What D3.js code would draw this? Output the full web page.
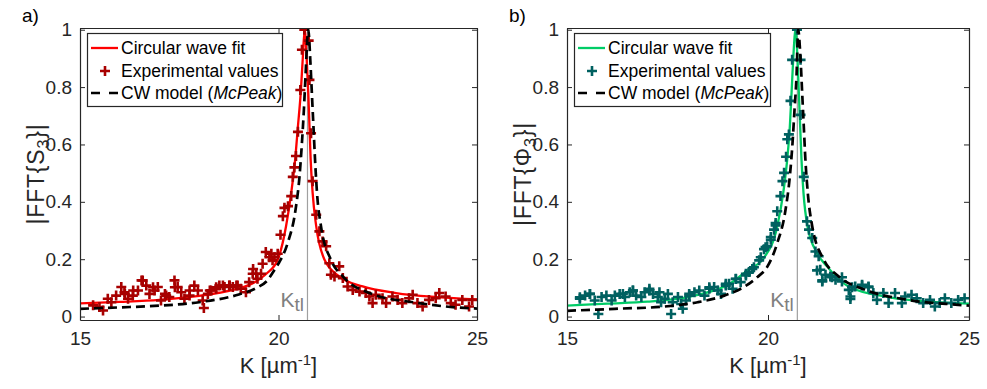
<!DOCTYPE html>
<html>
<head>
<meta charset="utf-8">
<script src="https://cdn.jsdelivr.net/npm/d3@7"></script>
<style>
  body { margin: 0; background: #fff; }
  svg text { font-family: "Liberation Sans", Arial, Helvetica, sans-serif; }
</style>
</head>
<body>
<svg id="fig" width="987" height="389"></svg>
<script>
// ---- data ----
const kTicks = [15, 20, 25];
const yTicks = [0, 0.2, 0.4, 0.6, 0.8, 1];
const kTl = 20.73;

// panel a: |FFT{S3}|
const kExpA = [15.33, 15.49, 15.58, 15.70, 15.79, 15.91, 16.04, 16.12, 16.13, 16.21, 16.33, 16.34, 16.46, 16.55, 16.58, 16.67,
  16.75, 16.84, 16.88, 16.96, 17.04, 17.14, 17.17, 17.25, 17.38, 17.39, 17.46, 17.55, 17.63, 17.76, 17.76, 17.88, 17.97,
  18.09, 18.12, 18.22, 18.27, 18.30, 18.43, 18.43, 18.51, 18.60, 18.64, 18.76, 18.77, 18.85, 18.94, 18.97, 19.05, 19.18,
  19.26, 19.35, 19.36, 19.44, 19.47, 19.56, 19.60, 19.68, 19.77, 19.82, 19.85, 19.90, 19.98, 20.05, 20.11, 20.15, 20.24,
  20.32, 20.36, 20.40, 20.44, 20.49, 20.55, 20.59, 20.65, 20.76, 20.78, 20.82, 20.86, 20.95, 21.03, 21.11, 21.20, 21.28,
  21.32, 21.41, 21.53, 21.62, 21.74, 21.87, 22.04, 22.20, 22.29, 22.37, 22.45, 22.62, 22.71, 22.87, 23.00, 23.12, 23.29,
  23.38, 23.50, 23.63, 23.79, 23.96, 24.05, 24.21, 24.34, 24.46, 24.63, 24.80, 24.88];
const sExpA = [0.039, 0.033, 0.021, 0.062, 0.050, 0.073, 0.103, 0.085, 0.079, 0.062, 0.073, 0.091, 0.091, 0.126, 0.126, 0.108,
  0.079, 0.102, 0.091, 0.103, 0.056, 0.079, 0.073, 0.068, 0.126, 0.102, 0.103, 0.085, 0.062, 0.073, 0.091, 0.108, 0.091,
  0.056, 0.030, 0.079, 0.091, 0.091, 0.097, 0.102, 0.108, 0.108, 0.103, 0.108, 0.108, 0.103, 0.108, 0.108, 0.097, 0.085,
  0.120, 0.149, 0.166, 0.149, 0.132, 0.149, 0.184, 0.225, 0.207, 0.219, 0.196, 0.207, 0.219, 0.285, 0.350, 0.379, 0.385,
  0.420, 0.487, 0.520, 0.560, 0.644, 0.790, 0.930, 1.000, 0.962, 0.825, 0.639, 0.472, 0.355, 0.297, 0.262, 0.245, 0.186,
  0.146, 0.140, 0.175, 0.134, 0.105, 0.093, 0.087, 0.082, 0.070, 0.047, 0.076, 0.064, 0.047, 0.070, 0.058, 0.047, 0.064,
  0.076, 0.047, 0.035, 0.058, 0.064, 0.082, 0.070, 0.047, 0.041, 0.058, 0.035, 0.058];
const kFitA = [15, 16, 17, 18, 18.5, 19, 19.4, 19.7, 19.98, 20.19, 20.32, 20.42, 20.49, 20.56, 20.61, 20.66, 20.71, 20.75,
  20.78, 20.81, 20.86, 20.95, 21.16, 21.53, 22.12, 22.96, 24, 25];
const sFitA = [0.046, 0.051, 0.058, 0.072, 0.083, 0.098, 0.12, 0.15, 0.198, 0.315, 0.431, 0.548, 0.664, 0.78, 0.897, 1.0,
  0.897, 0.78, 0.664, 0.548, 0.431, 0.315, 0.198, 0.14, 0.105, 0.082, 0.068, 0.06];
const kCwA = [15, 16, 17, 18, 19, 19.45, 19.72, 19.9, 20.0, 20.23, 20.43, 20.53, 20.59, 20.64, 20.68, 20.75, 20.80, 20.84,
  20.88, 20.92, 20.97, 21.07, 21.32, 21.62, 22.29, 23.54, 24.8, 25];
const sCwA = [0.027, 0.032, 0.038, 0.05, 0.077, 0.1, 0.126, 0.163, 0.185, 0.256, 0.373, 0.49, 0.605, 0.722, 0.838, 1.0,
  0.897, 0.78, 0.664, 0.548, 0.431, 0.315, 0.198, 0.14, 0.082, 0.047, 0.029, 0.028];

// panel b: |FFT{Phi3}|
const kExpB = [15.32, 15.32, 15.45, 15.57, 15.57, 15.69, 15.78, 15.86, 15.98, 16.11, 16.19, 16.31, 16.39, 16.44, 16.56, 16.64,
  16.64, 16.72, 16.85, 16.93, 17.05, 17.05, 17.14, 17.26, 17.30, 17.34, 17.43, 17.51, 17.59, 17.63, 17.76, 17.84, 17.88,
  17.96, 18.04, 18.04, 18.17, 18.29, 18.42, 18.54, 18.54, 18.66, 18.75, 18.83, 18.95, 18.95, 19.03, 19.12, 19.20, 19.20,
  19.32, 19.45, 19.45, 19.53, 19.61, 19.65, 19.78, 19.82, 19.90, 19.94, 19.98, 20.07, 20.07, 20.15, 20.19, 20.19, 20.23,
  20.31, 20.36, 20.40, 20.45, 20.48, 20.52, 20.56, 20.60, 20.72, 20.81, 20.81, 20.89, 20.97, 21.02, 21.10, 21.18, 21.22,
  21.26, 21.30, 21.35, 21.35, 21.43, 21.55, 21.59, 21.68, 21.84, 21.84, 22.01, 22.05, 22.05, 22.09, 22.17, 22.34, 22.34,
  22.50, 22.50, 22.62, 22.71, 22.87, 23.00, 23.16, 23.33, 23.41, 23.57, 23.70, 23.86, 24.03, 24.15, 24.27, 24.40, 24.56,
  24.73, 24.89];
const pExpB = [0.062, 0.067, 0.073, 0.079, 0.079, 0.056, 0.009, 0.068, 0.073, 0.056, 0.073, 0.079, 0.079, 0.068, 0.085, 0.091,
  0.091, 0.073, 0.068, 0.085, 0.091, 0.097, 0.079, 0.068, 0.085, 0.050, 0.062, 0.079, 0.009, 0.050, 0.068, 0.044, 0.027,
  0.056, 0.073, 0.079, 0.085, 0.091, 0.073, 0.097, 0.102, 0.103, 0.091, 0.079, 0.108, 0.114, 0.114, 0.097, 0.132, 0.131,
  0.120, 0.143, 0.149, 0.155, 0.166, 0.172, 0.196, 0.207, 0.235, 0.242, 0.245, 0.268, 0.277, 0.303, 0.326, 0.318, 0.367,
  0.420, 0.472, 0.501, 0.557, 0.618, 0.635, 0.752, 0.895, 1.000, 0.895, 0.703, 0.487, 0.332, 0.303, 0.274, 0.227, 0.161,
  0.210, 0.163, 0.122, 0.126, 0.146, 0.140, 0.137, 0.128, 0.122, 0.137, 0.093, 0.070, 0.061, 0.102, 0.105, 0.111, 0.108,
  0.105, 0.102, 0.082, 0.058, 0.082, 0.047, 0.082, 0.047, 0.070, 0.076, 0.064, 0.047, 0.058, 0.035, 0.047, 0.064, 0.047,
  0.058, 0.064];
const kFitB = [15, 16, 17, 18, 18.66, 19.0, 19.49, 19.9, 20.231, 20.379, 20.478, 20.544, 20.586, 20.627, 20.685, 20.734,
  20.767, 20.8, 20.833, 20.883, 20.982, 21.221, 21.468, 22.0, 23.0, 24.0, 25];
const pFitB = [0.038, 0.045, 0.052, 0.068, 0.091, 0.11, 0.161, 0.205, 0.315, 0.431, 0.548, 0.664, 0.78, 0.897, 1.0, 0.897,
  0.78, 0.664, 0.548, 0.431, 0.315, 0.221, 0.175, 0.105, 0.068, 0.052, 0.045];
const kCwB = [15, 16.19, 17.43, 18.25, 18.91, 19.4, 19.74, 19.98, 20.23, 20.437, 20.544, 20.61, 20.66, 20.71, 20.75, 20.81,
  20.85, 20.89, 20.93, 20.99, 21.1, 21.39, 21.76, 22.42, 23.49, 24.73, 25];
const pCwB = [0.02, 0.027, 0.035, 0.05, 0.073, 0.103, 0.138, 0.173, 0.256, 0.373, 0.49, 0.605, 0.722, 0.839, 1.0, 0.897,
  0.78, 0.664, 0.548, 0.431, 0.315, 0.198, 0.14, 0.093, 0.058, 0.041, 0.038];

const svg = d3.select('#fig');
const plotTop = 28, plotBottom = 320;
const axisColor = '#262626';
const crossPath = 'M-5,0H5M0,-5V5';

function drawPanel(p) {
  const x = d3.scaleLinear().domain([15, 25]).range([p.left, p.right]);
  const y = d3.scaleLinear().domain([-0.012, 1.006]).range([plotBottom, plotTop]);
  const g = svg.append('g');

  g.append('clipPath').attr('id', p.id + '-clip')
    .append('rect')
    .attr('x', p.left).attr('y', plotTop)
    .attr('width', p.right - p.left).attr('height', plotBottom - plotTop);

  const plot = g.append('g').attr('clip-path', `url(#${p.id}-clip)`);

  // K_tl line
  plot.append('line')
    .attr('x1', x(kTl)).attr('x2', x(kTl))
    .attr('y1', plotTop).attr('y2', plotBottom)
    .attr('stroke', '#a0a0a0').attr('stroke-width', 1.2);

  const line = d3.line()
    .x((d) => x(d[0]))
    .y((d) => y(d[1]))
    .curve(d3.curveMonotoneX);

  // fit
  plot.append('path')
    .datum(d3.zip(p.kFit, p.vFit))
    .attr('fill', 'none')
    .attr('stroke', p.fitColor)
    .attr('stroke-width', 2.3)
    .attr('d', line);

  // experimental crosses
  plot.selectAll('.pt')
    .data(d3.zip(p.kExp, p.vExp))
    .enter()
    .append('path')
    .attr('transform', (d) => `translate(${x(d[0])},${y(d[1])})`)
    .attr('d', crossPath)
    .attr('stroke', p.expColor)
    .attr('stroke-width', 2.6)
    .attr('fill', 'none');

  // CW model
  plot.append('path')
    .datum(d3.zip(p.kCw, p.vCw))
    .attr('fill', 'none')
    .attr('stroke', '#000')
    .attr('stroke-width', 2.7)
    .attr('stroke-dasharray', '9,5')
    .attr('d', line);

  // K_tl label
  const kl = g.append('text')
    .attr('x', x(kTl) - 3.5).attr('y', 306.5)
    .attr('text-anchor', 'end')
    .attr('fill', '#808080')
    .attr('font-size', 21);
  kl.append('tspan').text('K');
  kl.append('tspan').attr('dy', 4).attr('font-size', 19).text('tl');

  // axes (box)
  const styleAxis = (sel) => {
    sel.attr('color', axisColor).attr('font-size', 19)
      .attr('font-family', '"Liberation Sans", Arial, Helvetica, sans-serif');
    sel.select('.domain').attr('stroke-width', 1.2);
  };
  g.append('g').attr('transform', `translate(0,${plotBottom})`)
    .call(d3.axisBottom(x).tickValues(kTicks).tickSize(-5).tickSizeOuter(0).tickPadding(12).tickFormat(d3.format('d')))
    .call(styleAxis);
  g.append('g').attr('transform', `translate(0,${plotTop})`)
    .call(d3.axisTop(x).tickValues(kTicks).tickSize(-5).tickSizeOuter(0).tickFormat(''))
    .call(styleAxis);
  g.append('g').attr('transform', `translate(${p.left},0)`)
    .call(d3.axisLeft(y).tickValues(yTicks).tickSize(-5).tickSizeOuter(0).tickPadding(8).tickFormat((d) => String(d)))
    .call(styleAxis);
  g.append('g').attr('transform', `translate(${p.right},0)`)
    .call(d3.axisRight(y).tickValues(yTicks).tickSize(-5).tickSizeOuter(0).tickFormat(''))
    .call(styleAxis);

  // x label
  const xl = g.append('text')
    .attr('x', (p.left + p.right) / 2).attr('y', 373)
    .attr('text-anchor', 'middle').attr('font-size', 22).attr('fill', axisColor);
  xl.append('tspan').text('K [µm');
  xl.append('tspan').attr('dy', -8).attr('font-size', 15).text('-1');
  xl.append('tspan').attr('dy', 8).text(']');

  // y label
  const yl = g.append('text')
    .attr('transform', `translate(${p.left - 36},${(plotTop + plotBottom) / 2}) rotate(-90)`)
    .attr('text-anchor', 'middle').attr('font-size', 23).attr('letter-spacing', 0.8).attr('fill', axisColor);
  yl.append('tspan').text('|FFT{' + p.sym);
  yl.append('tspan').attr('dy', 5).attr('font-size', 16).text('3');
  yl.append('tspan').attr('dy', -5).text('}|');

  // panel tag
  g.append('text')
    .attr('x', p.left - 58).attr('y', 22)
    .attr('font-size', 19).attr('fill', '#000')
    .text(p.tag);

  // legend
  const lx = p.left + 7, ly = 33;
  const leg = g.append('g');
  leg.append('rect')
    .attr('x', lx + 0.5).attr('y', ly + 0.5)
    .attr('width', p.legendW).attr('height', 73)
    .attr('fill', '#fff').attr('stroke', axisColor).attr('stroke-width', 1.2);
  const rows = [48, 71, 93];
  leg.append('line')
    .attr('x1', lx + 4).attr('x2', lx + 31).attr('y1', rows[0]).attr('y2', rows[0])
    .attr('stroke', p.fitColor).attr('stroke-width', 2.3);
  leg.append('path')
    .attr('transform', `translate(${lx + 18},${rows[1]})`)
    .attr('d', crossPath)
    .attr('stroke', p.expColor).attr('stroke-width', 2.6);
  leg.append('line')
    .attr('x1', lx + 4).attr('x2', lx + 31).attr('y1', rows[2]).attr('y2', rows[2])
    .attr('stroke', '#000').attr('stroke-width', 2.7).attr('stroke-dasharray', '9,9');
  const labels = ['Circular wave fit', 'Experimental values'];
  labels.forEach((t, i) => {
    leg.append('text')
      .attr('x', lx + 34).attr('y', rows[i]).attr('dy', '0.35em')
      .attr('font-size', 17.5).attr('fill', '#000').text(t);
  });
  const cw = leg.append('text')
    .attr('x', lx + 34).attr('y', rows[2]).attr('dy', '0.35em')
    .attr('font-size', 17.5).attr('fill', '#000');
  cw.append('tspan').text('CW model (');
  cw.append('tspan').attr('font-style', 'italic').text('McPeak');
  cw.append('tspan').text(')');
}

drawPanel({
  id: 'a', tag: 'a)', sym: 'S', left: 80, right: 477, legendW: 195,
  fitColor: '#ff0000', expColor: '#a80000',
  kExp: kExpA, vExp: sExpA, kFit: kFitA, vFit: sFitA, kCw: kCwA, vCw: sCwA
});

drawPanel({
  id: 'b', tag: 'b)', sym: 'Φ', left: 567, right: 969, legendW: 196,
  fitColor: '#00cc66', expColor: '#006060',
  kExp: kExpB, vExp: pExpB, kFit: kFitB, vFit: pFitB, kCw: kCwB, vCw: pCwB
});
</script>
</body>
</html>
